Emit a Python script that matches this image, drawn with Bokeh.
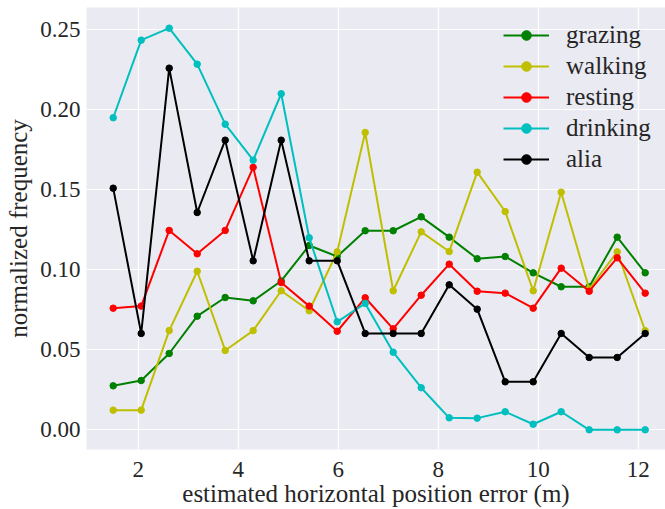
from bokeh.plotting import figure
from bokeh.models import Range1d, NumeralTickFormatter, FixedTicker, Legend, LegendItem
from bokeh.embed import file_html
from bokeh.resources import INLINE

# estimated horizontal position error bins (m)
error_m = [1.50, 2.06, 2.62, 3.18, 3.74, 4.30, 4.86, 5.42, 5.98, 6.54,
           7.10, 7.66, 8.22, 8.78, 9.34, 9.90, 10.46, 11.02, 11.58, 12.14]

grazing = [0.0275, 0.0308, 0.0477, 0.0710, 0.0827, 0.0806, 0.0930, 0.1152, 0.1083, 0.1244,
           0.1244, 0.1331, 0.1204, 0.1069, 0.1083, 0.0981, 0.0894, 0.0894, 0.1204, 0.0981]
walking = [0.0123, 0.0123, 0.0620, 0.0991, 0.0496, 0.0620, 0.0869, 0.0744, 0.1112, 0.1858,
           0.0869, 0.1237, 0.1114, 0.1610, 0.1364, 0.0869, 0.1485, 0.0880, 0.1112, 0.0619]
resting = [0.0760, 0.0773, 0.1246, 0.1100, 0.1246, 0.1640, 0.0920, 0.0773, 0.0616, 0.0825,
           0.0631, 0.0841, 0.1035, 0.0866, 0.0854, 0.0760, 0.1010, 0.0866, 0.1075, 0.0854]
drinking = [0.1950, 0.2435, 0.2510, 0.2285, 0.1910, 0.1685, 0.2100, 0.1200, 0.0675, 0.0790,
            0.0485, 0.0263, 0.0075, 0.0073, 0.0113, 0.0035, 0.0113, 0.0000, 0.0000, 0.0000]
alia = [0.1510, 0.0602, 0.2260, 0.1358, 0.1810, 0.1056, 0.1810, 0.1056, 0.1056, 0.0602,
        0.0602, 0.0602, 0.0906, 0.0754, 0.0300, 0.0300, 0.0602, 0.0452, 0.0452, 0.0602]

series_names = ["grazing", "walking", "resting", "drinking", "alia"]
series_values = [grazing, walking, resting, drinking, alia]
series_colors = ["#008000", "#BFBF00", "#FF0000", "#00BFBF", "#000000"]

x_ticks = [2, 4, 6, 8, 10, 12]
y_ticks = [0.0, 0.05, 0.10, 0.15, 0.20, 0.25]

FONT = "'Liberation Serif', serif"
TEXT = "#262626"

p = figure(width=665, height=509, output_backend="svg", toolbar_location=None,
           x_range=Range1d(0.966, 12.546), y_range=Range1d(-0.0123, 0.2639),
           min_border_left=86, min_border_right=0, min_border_top=7, min_border_bottom=60)

p.background_fill_color = "#EAEAF2"
p.border_fill_color = "white"
p.outline_line_color = None
p.grid.grid_line_color = "white"
p.grid.grid_line_width = 1.2

for ax in (p.xaxis[0], p.yaxis[0]):
    ax.axis_line_color = None
    ax.major_tick_line_color = None
    ax.minor_tick_line_color = None
    ax.major_tick_out = 0
    ax.major_tick_in = 0
    ax.major_label_text_font = FONT
    ax.major_label_text_font_size = "23px"
    ax.major_label_text_color = TEXT
    ax.axis_label_text_font = FONT
    ax.axis_label_text_font_size = "25px"
    ax.axis_label_text_font_style = "normal"
    ax.axis_label_text_color = TEXT

p.xaxis.ticker = FixedTicker(ticks=x_ticks)
p.yaxis.ticker = FixedTicker(ticks=y_ticks)
p.yaxis.formatter = NumeralTickFormatter(format="0.00")
p.xaxis.axis_label = "estimated horizontal position error (m)"
p.yaxis.axis_label = "normalized frequency"
p.xaxis.major_label_standoff = 12
p.yaxis.major_label_standoff = 6
p.xaxis.axis_label_standoff = 0
p.yaxis.axis_label_standoff = 5

items = []
for name, vals, col in zip(series_names, series_values, series_colors):
    ln = p.line(error_m, vals, line_color=col, line_width=2)
    dots = p.scatter(error_m, vals, size=6.5, fill_color=col, line_color=col)
    items.append(LegendItem(label=name, renderers=[ln, dots]))

legend = Legend(items=items, location=(417, 276))
legend.background_fill_alpha = 0
legend.border_line_alpha = 0
legend.padding = 0
legend.margin = 0
legend.spacing = 3
legend.glyph_width = 46
legend.glyph_height = 24
legend.label_height = 24
legend.label_standoff = 17
legend.label_text_font = FONT
legend.label_text_font_size = "25px"
legend.label_text_color = TEXT
p.add_layout(legend, "center")

open("out.html", "w").write(file_html(p, INLINE))
